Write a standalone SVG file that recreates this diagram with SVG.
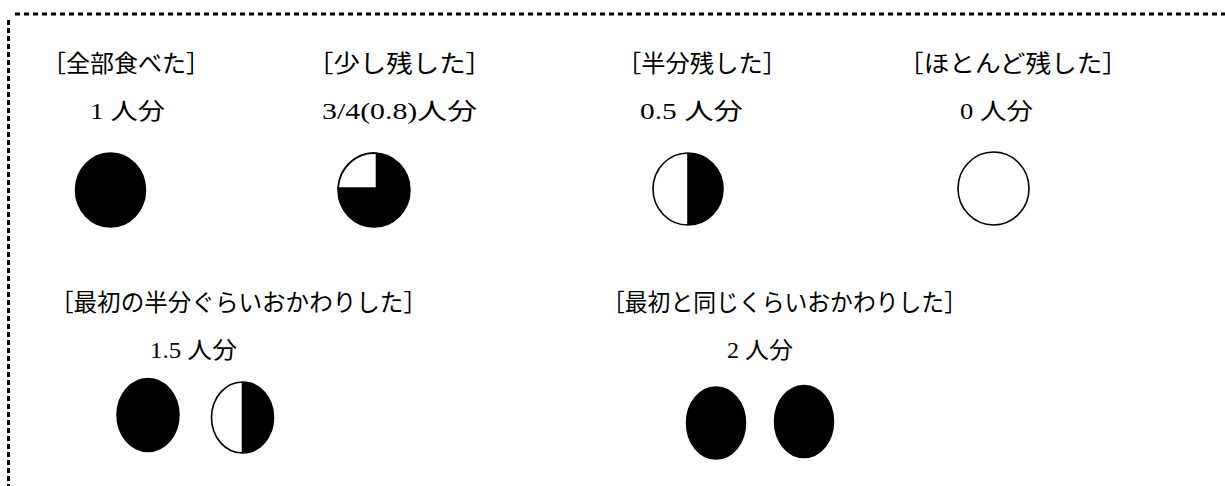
<svg xmlns="http://www.w3.org/2000/svg" width="1225" height="486" viewBox="0 0 1225 486">
<style>
.lbl{font-family:"Liberation Serif","Noto Sans CJK JP",serif;font-size:24px;fill:#000}
.val{font-family:"Liberation Serif","Noto Sans CJK JP",serif;font-size:23px;fill:#000}
.full{fill:#000;stroke:#000;stroke-width:1.5}
.empty{fill:#fff;stroke:#000;stroke-width:1.6}
.half{fill:#000;stroke:none}
.div{stroke:#000;stroke-width:1.6}
.border{stroke:#000;stroke-width:3;fill:none}
</style>
<rect width="1225" height="486" fill="#fff"/>
<g id="frame">
<line class="border" x1="15" y1="14" x2="1225" y2="14" stroke-dasharray="5 4"/>
<line class="border" x1="8.5" y1="20" x2="8.5" y2="486" stroke-dasharray="5 3"/>
</g>
<g id="all-eaten">
<text class="lbl" x="42" y="72" textLength="168" lengthAdjust="spacingAndGlyphs">［全部食べた］</text>
<text class="val" x="90" y="119" textLength="75" lengthAdjust="spacingAndGlyphs">1 人分</text>
<ellipse class="full" cx="110.5" cy="190" rx="35" ry="37"/>
</g>
<g id="little-left">
<text class="lbl" x="307" y="72" textLength="185" lengthAdjust="spacingAndGlyphs">［少し残した］</text>
<text class="val" x="322" y="119" textLength="155" lengthAdjust="spacingAndGlyphs">3/4(0.8)人分</text>
<ellipse class="full" cx="374" cy="190" rx="36" ry="37"/>
<path d="M376.5,188 L376.5,153.2 A36,37 0 0 0 338.2,188 Z" fill="#fff" stroke="#000" stroke-width="1.6"/>
</g>
<g id="half-left">
<text class="lbl" x="617" y="72" textLength="170" lengthAdjust="spacingAndGlyphs">［半分残した］</text>
<text class="val" x="640" y="119" textLength="103" lengthAdjust="spacingAndGlyphs">0.5 人分</text>
<ellipse class="empty" cx="688" cy="189" rx="35" ry="36"/>
<path class="half" d="M688,153 A35,36 0 0 1 688,225 Z"/>
<line class="div" x1="688" y1="153" x2="688" y2="225"/>
</g>
<g id="mostly-left">
<text class="lbl" x="898" y="72" textLength="230" lengthAdjust="spacingAndGlyphs">［ほとんど残した］</text>
<text class="val" x="960" y="119" textLength="73" lengthAdjust="spacingAndGlyphs">0 人分</text>
<ellipse class="empty" cx="993.5" cy="188.5" rx="35.5" ry="36.5"/>
</g>
<g id="half-seconds">
<text class="lbl" x="50" y="311" textLength="377" lengthAdjust="spacingAndGlyphs">［最初の半分ぐらいおかわりした］</text>
<text class="val" x="150" y="358" textLength="87" lengthAdjust="spacingAndGlyphs">1.5 人分</text>
<ellipse class="full" cx="148" cy="415" rx="31" ry="36.5"/>
<ellipse class="empty" cx="242.5" cy="417.5" rx="31" ry="35.5"/>
<path class="half" d="M242.5,382 A31,35.5 0 0 1 242.5,453 Z"/>
<line class="div" x1="242.5" y1="382" x2="242.5" y2="453"/>
</g>
<g id="full-seconds">
<text class="lbl" x="602" y="311" textLength="365" lengthAdjust="spacingAndGlyphs">［最初と同じくらいおかわりした］</text>
<text class="val" x="727" y="358" textLength="66" lengthAdjust="spacingAndGlyphs">2 人分</text>
<ellipse class="full" cx="716" cy="423" rx="29.5" ry="36"/>
<ellipse class="full" cx="804" cy="421.5" rx="29.5" ry="36"/>
</g>
<g id="connectors"></g>
</svg>
